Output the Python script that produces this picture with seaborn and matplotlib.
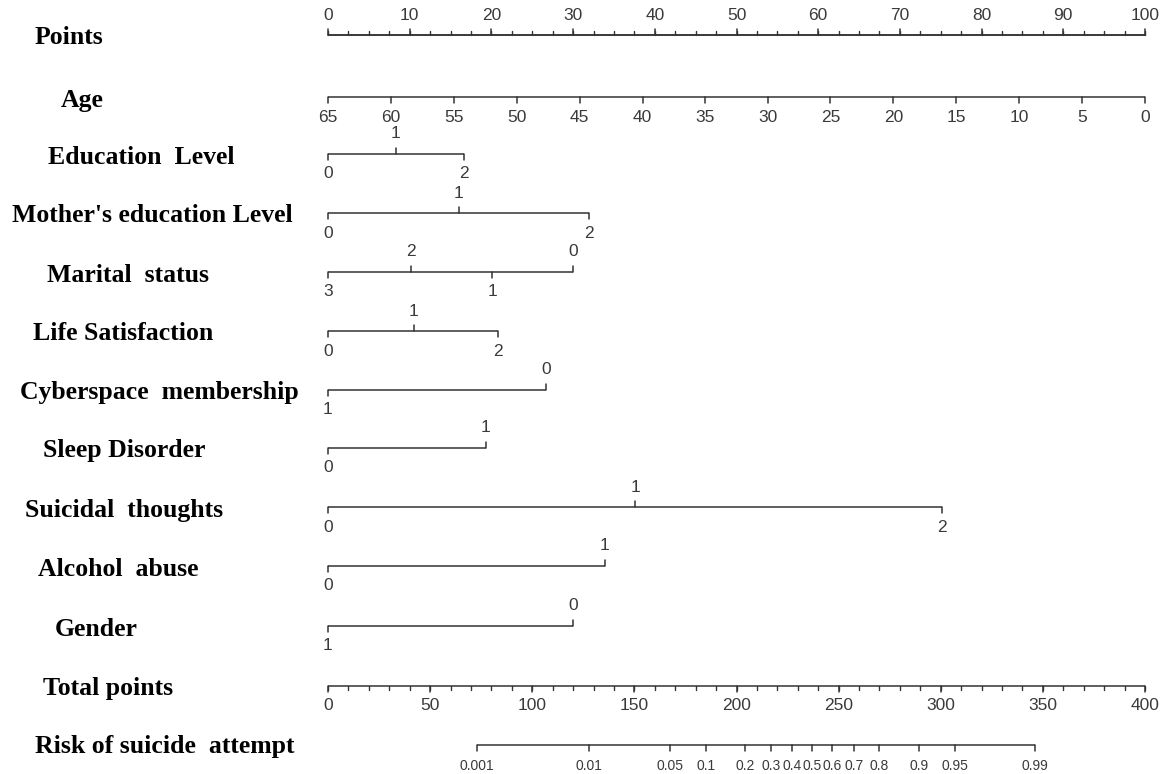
import numpy as np
import matplotlib
matplotlib.use("Agg")
import matplotlib.pyplot as plt
import seaborn as sns

# ---- data (points scale 0-100) ----
points_ticks = [0, 10, 20, 30, 40, 50, 60, 70, 80, 90, 100]

age_labels = ['65', '60', '55', '50', '45', '40', '35', '30', '25', '20', '15', '10', '5', '0']
age_points = [0, 7.7, 15.4, 23.1, 30.8, 38.5, 46.2, 53.8, 61.5, 69.2, 76.9, 84.6, 92.3, 100]

education_labels = ['0', '1', '2']
education_points = [0, 8.3, 16.6]

mother_edu_labels = ['0', '1', '2']
mother_edu_points = [0, 16.0, 31.9]

marital_labels = ['3', '2', '1', '0']
marital_points = [0, 10.2, 20.1, 30.0]

life_labels = ['0', '1', '2']
life_points = [0, 10.5, 20.8]

cyber_labels = ['1', '0']
cyber_points = [0, 26.7]

sleep_labels = ['0', '1']
sleep_points = [0, 19.3]

suicidal_labels = ['0', '1', '2']
suicidal_points = [0, 37.6, 75.2]

alcohol_labels = ['0', '1']
alcohol_points = [0, 33.9]

gender_labels = ['1', '0']
gender_points = [0, 30.0]

total_ticks = [0, 50, 100, 150, 200, 250, 300, 350, 400]

risk_labels = ['0.001', '0.01', '0.05', '0.1', '0.2', '0.3', '0.4', '0.5',
               '0.6', '0.7', '0.8', '0.9', '0.95', '0.99']
risk_total_points = [72.9, 127.8, 167.4, 185.1, 204.4, 217.1, 227.2, 237.0,
                     246.8, 257.5, 269.8, 289.3, 307.0, 346.1]

# ---- layout (pixels) ----
W, H = 1165, 774
X0 = 328          # pixel of 0 points
PX_PER_PT = 8.17  # pixels per point
LINE_C = '#333333'
TEXT_C = '#3a3a3a'

sns.set_theme(style="white")
plt.rcParams['font.family'] = ['DejaVu Sans']

fig = plt.figure(figsize=(W / 100, H / 100), dpi=100)
ax = fig.add_axes([0, 0, 1, 1])
ax.set_xlim(-X0 / PX_PER_PT, (W - X0) / PX_PER_PT)
ax.set_ylim(H, 0)
ax.axis('off')

tick_font = dict(family=['Liberation Sans Narrow', 'Liberation Sans', 'DejaVu Sans'],
                 size=12.5, color=TEXT_C)
title_font = dict(family=['Liberation Serif', 'DejaVu Serif'], size=18.5,
                  weight='bold', color='black')


def px(x):
    return (x - X0) / PX_PER_PT


def draw_row(y, pts, labels, sides, tick_len=6, off=20, fsize=None):
    ax.plot([min(pts), max(pts)], [y, y], color=LINE_C, lw=1.1, solid_capstyle='butt')
    font = dict(tick_font)
    if fsize:
        font['size'] = fsize
    for p, lab, s in zip(pts, labels, sides):
        d = -1 if s == 'up' else 1
        ax.plot([p, p], [y, y + d * tick_len], color=LINE_C, lw=1.1)
        ax.text(p, y + d * off, lab, ha='center', va='center', **font)


def title(xpix, y, txt):
    ax.text(px(xpix), y, txt, ha='left', va='center', **title_font)


# Points
y = 35
ax.plot([0, 100], [y, y], color=LINE_C, lw=1.1)
for m in np.arange(0, 100.01, 2.5):
    ax.plot([m, m], [y, y - 4], color=LINE_C, lw=1.0)
draw_row(y, points_ticks, [str(t) for t in points_ticks], ['up'] * len(points_ticks))
title(35, y + 2, 'Points')

# Age
y = 97
draw_row(y, age_points, age_labels, ['down'] * len(age_points))
title(61, y + 4, 'Age')

rows = [
    (154, education_points, education_labels, ['down', 'up', 'down'], 48, 'Education  Level'),
    (213, mother_edu_points, mother_edu_labels, ['down', 'up', 'down'], 12, "Mother's education Level"),
    (272, marital_points, marital_labels, ['down', 'up', 'down', 'up'], 47, 'Marital  status'),
    (331, life_points, life_labels, ['down', 'up', 'down'], 33, 'Life Satisfaction'),
    (390, cyber_points, cyber_labels, ['down', 'up'], 20, 'Cyberspace  membership'),
    (448, sleep_points, sleep_labels, ['down', 'up'], 43, 'Sleep Disorder'),
    (507, suicidal_points, suicidal_labels, ['down', 'up', 'down'], 25, 'Suicidal  thoughts'),
    (566, alcohol_points, alcohol_labels, ['down', 'up'], 38, 'Alcohol  abuse'),
    (626, gender_points, gender_labels, ['down', 'up'], 55, 'Gender'),
]
for y, pts, labs, sides, tx, name in rows:
    draw_row(y, pts, labs, sides)
    title(tx, y + 3, name)

# Total points (0-400 mapped on the 0-100 points axis)
y = 686
tot_x = [t / 4 for t in total_ticks]
for m in np.arange(0, 400.01, 10):
    ax.plot([m / 4, m / 4], [y, y + 4], color=LINE_C, lw=1.0)
draw_row(y, tot_x, [str(t) for t in total_ticks], ['down'] * len(tot_x))
title(43, y + 2, 'Total points')

# Risk
y = 745
risk_x = [t / 4 for t in risk_total_points]
draw_row(y, risk_x, risk_labels, ['down'] * len(risk_x), off=21, fsize=10)
title(35, y + 1, 'Risk of suicide  attempt')

fig.savefig('out.png', dpi=100, facecolor='white')
